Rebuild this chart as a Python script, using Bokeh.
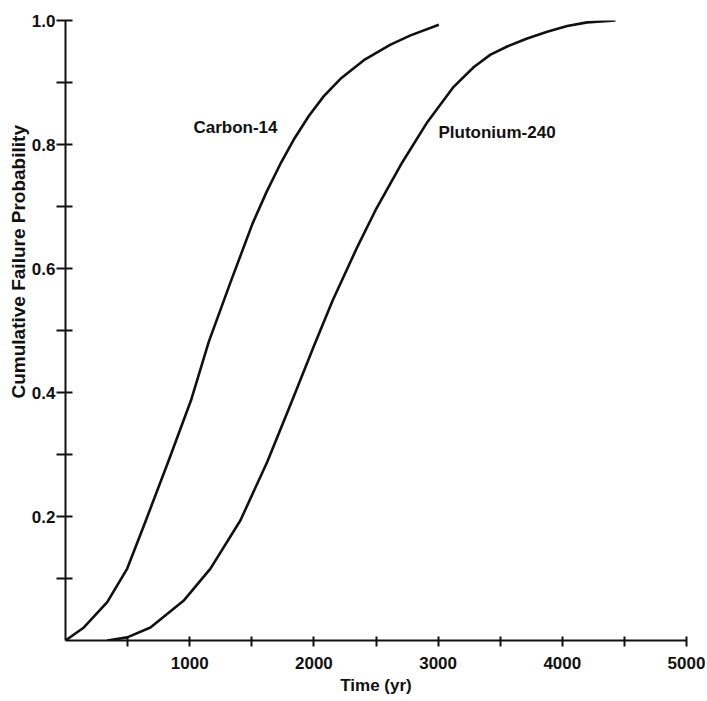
from bokeh.plotting import figure
from bokeh.models import FixedTicker, PrintfTickFormatter, Label, Range1d, Title
from bokeh.embed import file_html
from bokeh.resources import INLINE

# ---- data ----
carbon_t = [0, 148, 336, 497, 644, 830, 1010, 1154, 1329, 1505, 1620, 1731, 1838, 1959,
            2080, 2214, 2402, 2617, 2778, 3006]
carbon_p = [0, 0.021, 0.062, 0.116, 0.192, 0.290, 0.387, 0.482, 0.578, 0.672, 0.724, 0.769,
            0.808, 0.846, 0.878, 0.906, 0.936, 0.961, 0.976, 0.993]

pu_t = [336, 497, 684, 950, 1167, 1409, 1624, 1825, 2000, 2150, 2350, 2496, 2711, 2913,
        3125, 3288, 3422, 3556, 3717, 3878, 4039, 4200, 4428]
pu_p = [0, 0.005, 0.021, 0.064, 0.116, 0.194, 0.288, 0.387, 0.475, 0.548, 0.635, 0.694,
        0.771, 0.836, 0.893, 0.925, 0.945, 0.958, 0.971, 0.982, 0.991, 0.997, 1.0]

x_major = [1000, 2000, 3000, 4000, 5000]
x_minor = [500, 1500, 2500, 3500, 4500]
y_major = [0.2, 0.4, 0.6, 0.8, 1.0]
y_minor = [0.1, 0.3, 0.5, 0.7, 0.9]

series_labels = ["Carbon-14", "Plutonium-240"]
x_title = "Time (yr)"
y_title = "Cumulative Failure Probability"

FONT = "Liberation Sans"
INK = "#111111"

p = figure(width=707, height=701, output_backend="svg", toolbar_location=None,
           x_range=Range1d(0, 5000), y_range=Range1d(0, 1.0),
           min_border_left=65, min_border_right=21, min_border_top=20, min_border_bottom=61)
p.outline_line_color = None
p.xgrid.visible = False
p.ygrid.visible = False
p.background_fill_color = "white"
p.border_fill_color = "white"

xa = p.xaxis[0]
xa.ticker = FixedTicker(ticks=x_major, minor_ticks=x_minor)
xa.formatter = PrintfTickFormatter(format="%d")
ya = p.yaxis[0]
ya.ticker = FixedTicker(ticks=y_major, minor_ticks=y_minor)
ya.formatter = PrintfTickFormatter(format="%.1f")

for ax in (xa, ya):
    ax.axis_line_width = 2
    ax.axis_line_color = INK
    ax.major_tick_line_width = 2
    ax.minor_tick_line_width = 2
    ax.major_tick_line_color = INK
    ax.minor_tick_line_color = INK
    ax.major_label_text_font = FONT
    ax.major_label_text_font_style = "bold"
    ax.major_label_text_font_size = "17px"
    ax.major_label_text_color = INK

xa.major_tick_in = 4
xa.major_tick_out = 6
xa.minor_tick_in = 4
xa.minor_tick_out = 6
xa.major_label_standoff = 10
xa.axis_label = x_title
xa.axis_label_text_font = FONT
xa.axis_label_text_font_style = "bold"
xa.axis_label_text_font_size = "17px"
xa.axis_label_text_color = INK
xa.axis_label_standoff = 4

ya.major_tick_in = 7
ya.major_tick_out = 9
ya.minor_tick_in = 7
ya.minor_tick_out = 9
ya.major_label_standoff = 1

p.line(carbon_t, carbon_p, line_width=2.6, line_color=INK, line_join="round")
p.line(pu_t, pu_p, line_width=2.6, line_color=INK, line_join="round")

common = dict(text_font=FONT, text_font_style="bold", text_font_size="17px", text_color=INK)
p.add_layout(Label(x=1030, y=0.827, text=series_labels[0], text_baseline="middle", text_align="left", **common))
p.add_layout(Label(x=3003, y=0.820, text=series_labels[1], text_baseline="middle", text_align="left", **common))

yt = Title(text=y_title, align="left", offset=242, text_font=FONT, text_font_style="bold",
           text_font_size="19px", text_color=INK, standoff=0)
p.add_layout(yt, "left")

open("out.html", "w").write(file_html(p, INLINE))
